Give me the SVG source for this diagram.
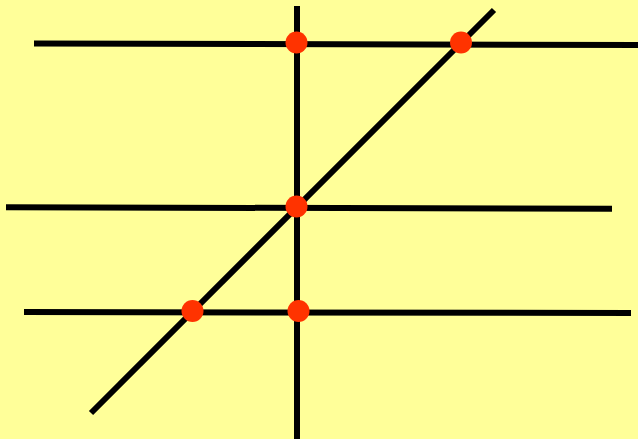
<svg xmlns="http://www.w3.org/2000/svg" width="638" height="439" viewBox="0 0 638 439">
<style>
.ln{stroke:#000;stroke-width:6;fill:none}
.pt{fill:#ff3300}
</style>
<rect width="638" height="439" fill="#ffff99"/>
<g id="connectors">
<line class="ln" x1="34" y1="43.5" x2="638" y2="45"/>
<line class="ln" x1="6" y1="207.3" x2="612" y2="208.7"/>
<line class="ln" x1="24" y1="312" x2="631" y2="313"/>
<line class="ln" x1="297" y1="6" x2="297" y2="439"/>
<line class="ln" x1="91" y1="413" x2="494" y2="10"/>
</g>
<g id="p1"><circle class="pt" cx="296.5" cy="42.5" r="11"/></g>
<g id="p2"><circle class="pt" cx="461" cy="42.5" r="11"/></g>
<g id="p3"><circle class="pt" cx="296.5" cy="206.5" r="11"/></g>
<g id="p4"><circle class="pt" cx="192.5" cy="311" r="11"/></g>
<g id="p5"><circle class="pt" cx="298.5" cy="311" r="11"/></g>
</svg>
